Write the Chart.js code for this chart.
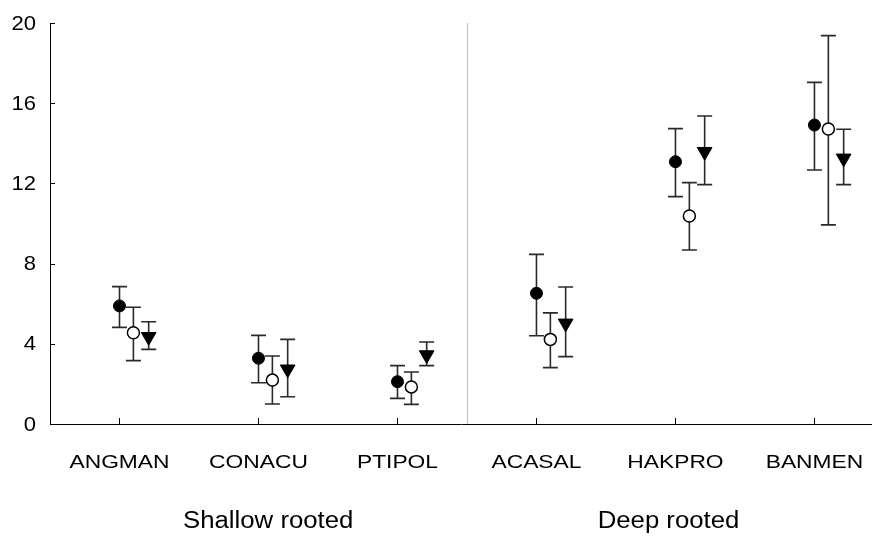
<!DOCTYPE html>
<html>
<head>
<meta charset="utf-8">
<script src="https://cdn.jsdelivr.net/npm/chart.js@4.4.1/dist/chart.umd.min.js"></script>
<style>
html,body{margin:0;padding:0;background:#fff;}
#wrap{width:872px;height:538px;position:relative;}
</style>
</head>
<body>
<div id="wrap"><canvas id="c" width="872" height="538"></canvas></div>
<script>
const categories = ['ANGMAN','CONACU','PTIPOL','ACASAL','HAKPRO','BANMEN'];
const groupLabels = ['Shallow rooted','Deep rooted'];
const yTicks = [0,4,8,12,16,20];

const filledMean = [5.89, 3.28, 2.11, 6.52, 13.08, 14.91];
const filledHigh = [6.85, 4.42, 2.91, 8.46, 14.73, 17.04];
const filledLow  = [4.82, 2.06, 1.28, 4.40, 11.34, 12.67];

const openMean = [4.55, 2.19, 1.85, 4.22, 10.37, 14.71];
const openHigh = [5.82, 3.39, 2.59, 5.54, 12.04, 19.37];
const openLow  = [3.16, 1.00, 0.98, 2.81, 8.68, 9.93];

const triMean = [4.35, 2.73, 3.44, 5.02, 13.58, 13.25];
const triHigh = [5.10, 4.22, 4.09, 6.83, 15.36, 14.70];
const triLow  = [3.72, 1.36, 2.91, 3.36, 11.94, 11.94];

const FONT = "'Liberation Sans', Arial, Helvetica, sans-serif";

function pts(mean, hi, lo, off){
  return mean.map((m,i)=>({x:i+1+off, y:m, hi:hi[i], lo:lo[i]}));
}

function stretchedText(ctx, txt, x, y, sx, align){
  ctx.save();
  ctx.translate(x, y);
  ctx.scale(sx, 1);
  ctx.textAlign = align;
  ctx.fillText(txt, 0, 0);
  ctx.restore();
}

const errorBars = {
  id:'errorBars',
  beforeDatasetsDraw(chart){
    const ctx = chart.ctx, xs = chart.scales.x, ys = chart.scales.y;
    ctx.save();
    ctx.strokeStyle = '#2a2a2a';
    ctx.lineWidth = 1.6;
    chart.data.datasets.forEach(ds=>{
      ds.data.forEach(p=>{
        const x = xs.getPixelForValue(p.x);
        const yh = ys.getPixelForValue(p.hi), yl = ys.getPixelForValue(p.lo);
        ctx.beginPath();
        ctx.moveTo(x, yh); ctx.lineTo(x, yl);
        ctx.moveTo(x-7.5, yh); ctx.lineTo(x+7.5, yh);
        ctx.moveTo(x-7.5, yl); ctx.lineTo(x+7.5, yl);
        ctx.stroke();
      });
    });
    ctx.restore();
  }
};

const decor = {
  id:'decor',
  beforeDatasetsDraw(chart){
    const ctx = chart.ctx, xs = chart.scales.x, ys = chart.scales.y, a = chart.chartArea;
    ctx.save();
    // separator
    const sx = Math.round(xs.getPixelForValue(3.5))+0.5;
    ctx.strokeStyle = '#c4c4c4'; ctx.lineWidth = 1.2;
    ctx.beginPath(); ctx.moveTo(sx, a.top); ctx.lineTo(sx, a.bottom); ctx.stroke();
    // inward ticks
    ctx.strokeStyle = '#000'; ctx.lineWidth = 1;
    ys.ticks.forEach(t=>{
      const y = Math.round(ys.getPixelForValue(t.value))+0.5;
      ctx.beginPath(); ctx.moveTo(a.left, y); ctx.lineTo(a.left+5, y); ctx.stroke();
    });
    xs.ticks.forEach(t=>{
      const x = Math.round(xs.getPixelForValue(t.value))+0.5;
      ctx.beginPath(); ctx.moveTo(x, a.bottom); ctx.lineTo(x, a.bottom-6); ctx.stroke();
    });
    // labels
    ctx.fillStyle = '#000';
    ctx.textBaseline = 'middle';
    ctx.font = '20px ' + FONT;
    ys.ticks.forEach(t=>{
      stretchedText(ctx, String(t.value), a.left-14, ys.getPixelForValue(t.value)+1, 1.1, 'right');
    });
    ctx.font = '19px ' + FONT;
    xs.ticks.forEach(t=>{
      stretchedText(ctx, categories[t.value-1], xs.getPixelForValue(t.value), a.bottom+39, 1.2, 'center');
    });
    ctx.font = '23px ' + FONT;
    stretchedText(ctx, groupLabels[0], xs.getPixelForValue(2.07), 522, 1.12, 'center');
    stretchedText(ctx, groupLabels[1], xs.getPixelForValue(4.95), 522, 1.12, 'center');
    ctx.restore();
  }
};

new Chart(document.getElementById('c'), {
  type:'scatter',
  data:{
    datasets:[
      {label:'filled', data:pts(filledMean, filledHigh, filledLow, 0), pointStyle:'circle', radius:6, backgroundColor:'#000', borderColor:'#000', borderWidth:1},
      {label:'open', data:pts(openMean, openHigh, openLow, 0.1), pointStyle:'circle', radius:6, backgroundColor:'#fff', borderColor:'#000', borderWidth:1.5},
      {label:'tri', data:pts(triMean, triHigh, triLow, 0.21), pointStyle:'triangle', rotation:180, radius:8.5, backgroundColor:'#000', borderColor:'#000', borderWidth:1}
    ]
  },
  options:{
    responsive:false,
    animation:false,
    layout:{autoPadding:false, padding:{left:0, right:0, top:23, bottom:0}},
    plugins:{legend:{display:false}, tooltip:{enabled:false}},
    scales:{
      x:{
        type:'linear', min:0.5, max:6.414,
        afterFit(s){ s.height = 114; s.paddingLeft = 0; s.paddingRight = 0; },
        afterBuildTicks(s){ s.ticks = categories.map((c,i)=>({value:i+1})); },
        grid:{display:false, drawTicks:false},
        border:{display:true, color:'#000', width:1},
        ticks:{display:false}
      },
      y:{
        min:0, max:20,
        afterFit(s){ s.width = 50; s.paddingTop = 0; s.paddingBottom = 0; },
        afterBuildTicks(s){ s.ticks = yTicks.map(v=>({value:v})); },
        grid:{display:false, drawTicks:false},
        border:{display:true, color:'#000', width:1},
        ticks:{display:false}
      }
    }
  },
  plugins:[decor, errorBars]
});
</script>
</body>
</html>
